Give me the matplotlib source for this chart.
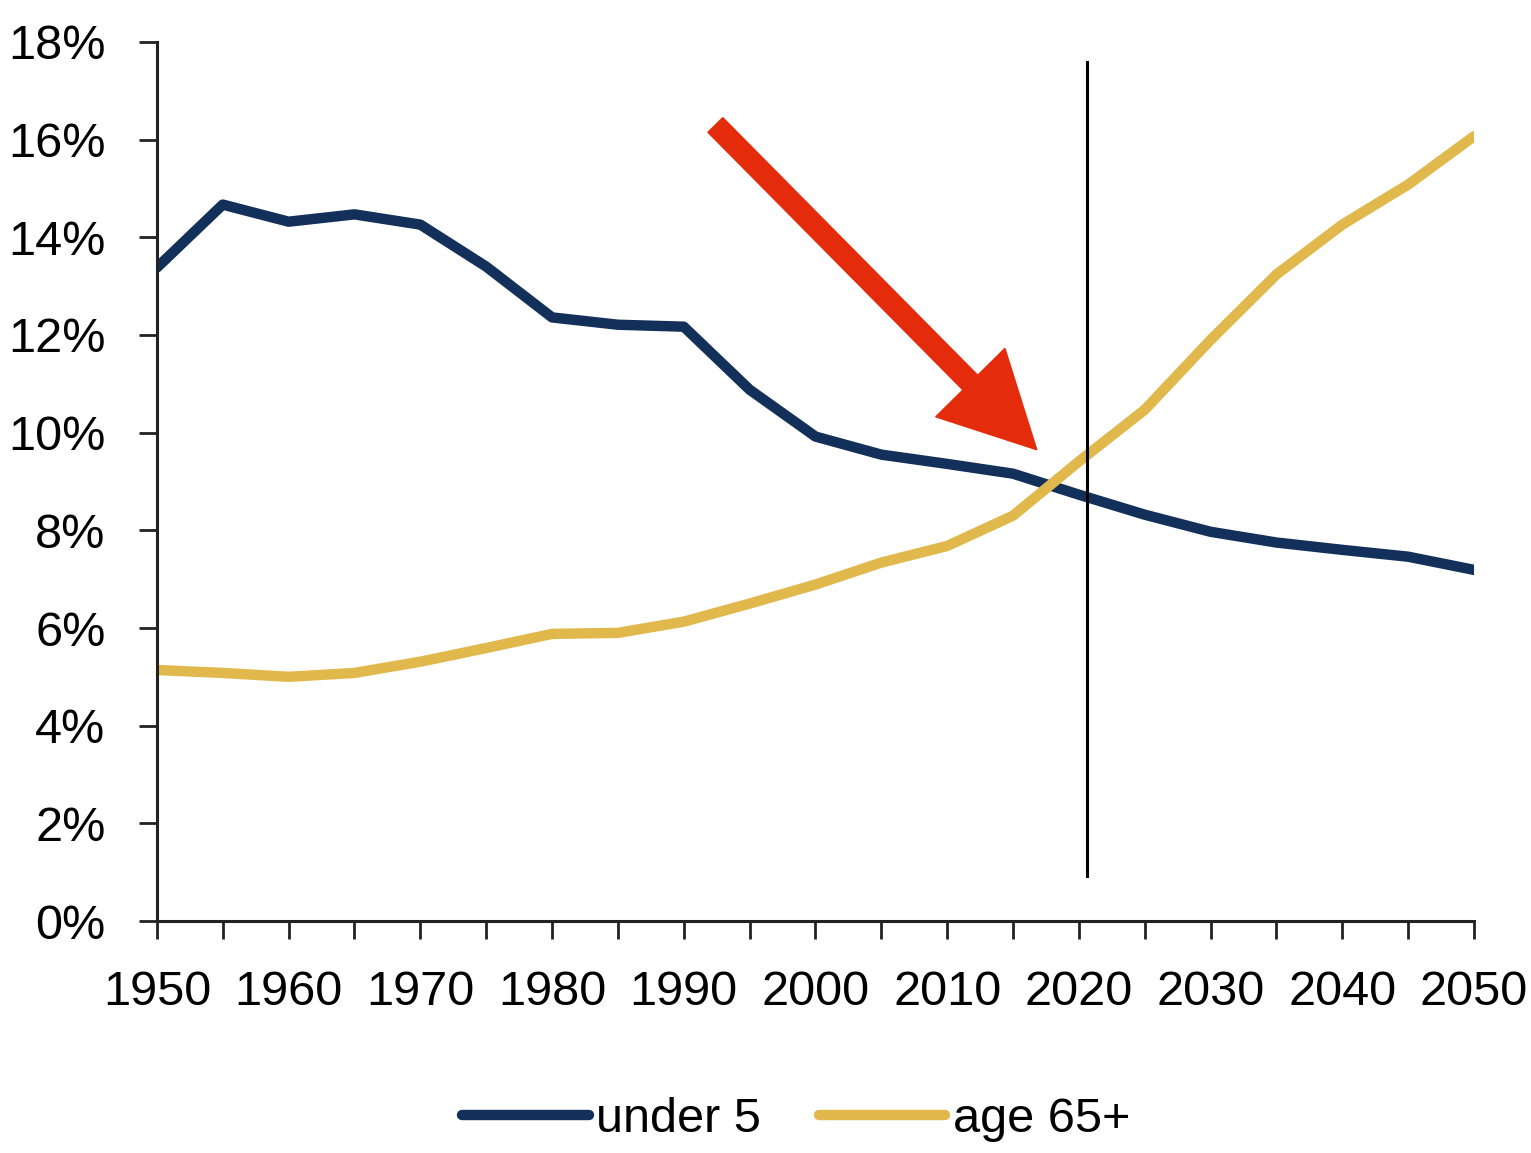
import matplotlib
matplotlib.use("Agg")
from matplotlib import pyplot as plt
from matplotlib.patches import FancyArrowPatch
from matplotlib.ticker import FuncFormatter

plt.rcParams['font.family'] = ['Liberation Sans Narrow', 'Liberation Sans', 'DejaVu Sans']

# Dados
anos = list(range(1950, 2051, 5))
under_5 = [13.38, 14.67, 14.32, 14.47, 14.26, 13.40, 12.36, 12.21, 12.17, 10.88,
           9.92, 9.55, 9.36, 9.16, 8.73, 8.32, 7.97, 7.75, 7.60, 7.46, 7.19]
age_65 = [5.14, 5.08, 5.00, 5.08, 5.31, 5.59, 5.88, 5.90, 6.13, 6.50,
          6.89, 7.34, 7.68, 8.30, 9.41, 10.47, 11.90, 13.24, 14.26, 15.08, 16.07]
rotulos = ["under 5", "age 65+"]
cores = ["#13305A", "#E1B84B"]

ano_linha = 2020.6
seta_inicio = (1992.4, 16.3)
seta_fim = (2016.8, 9.65)

fig = plt.figure(figsize=(15.31, 11.53), dpi=100)
ax = fig.add_axes([0.1025, 0.2012, 0.8603, 0.7624])

ax.plot(anos, under_5, color=cores[0], lw=7.5, label=rotulos[0], solid_capstyle='round')
ax.plot(anos, age_65, color=cores[1], lw=7.5, label=rotulos[1], solid_capstyle='round')

ax.plot([ano_linha, ano_linha], [0.92, 17.6], color='black', lw=2.2)

seta = FancyArrowPatch(seta_inicio, seta_fim,
                       arrowstyle='simple,head_length=6.8,head_width=7.0,tail_width=1.5',
                       mutation_scale=10, color='#E42B0B', shrinkA=0, shrinkB=0, zorder=5)
ax.add_patch(seta)

ax.set_xlim(1950, 2050)
ax.set_ylim(0, 18)
ax.set_xticks(range(1950, 2051, 10))
ax.set_xticks(range(1955, 2050, 10), minor=True)
ax.set_yticks(range(0, 19, 2))
ax.yaxis.set_major_formatter(FuncFormatter(lambda v, p: f"{v:.0f}%"))

for lado in ['top', 'right']:
    ax.spines[lado].set_visible(False)
for lado in ['left', 'bottom']:
    ax.spines[lado].set_linewidth(2.2)
    ax.spines[lado].set_color('#222222')

ax.tick_params(axis='both', which='both', direction='out', width=2, length=13,
               labelsize=35, color='#222222')
ax.tick_params(axis='x', pad=22)
ax.tick_params(axis='y', pad=24)

fig.legend(loc='center', bbox_to_anchor=(0.52, 0.029), ncol=2, frameon=False,
           fontsize=35, handlelength=2.6, handletextpad=0.15, columnspacing=1.2)

plt.savefig("out.png", dpi=100)
